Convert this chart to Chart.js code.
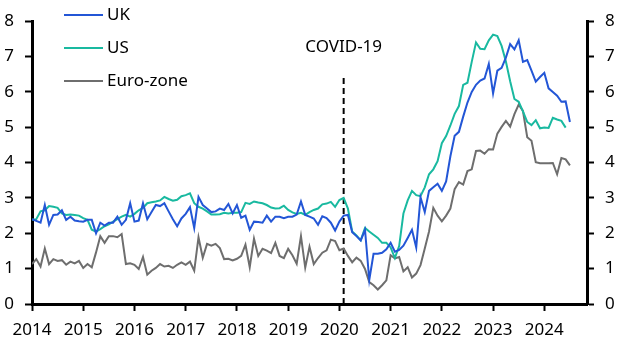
<!DOCTYPE html>
<html>
<head>
<meta charset="utf-8">
<script src="https://cdn.jsdelivr.net/npm/chart.js@4.4.1/dist/chart.umd.min.js"></script>
<style>
  body { margin: 0; background: #fff; }
  #wrap { width: 627px; height: 352px; }
</style>
</head>
<body>
<div id="wrap"><canvas id="chart"></canvas></div>
<script>
// monthly, Jan 2014 onwards
const ukValues = [
  2.4, 2.35, 2.3, 2.8, 2.24, 2.52, 2.53, 2.65, 2.38, 2.47, 2.36, 2.34,
  2.33, 2.38, 2.38, 2.0, 2.3, 2.22, 2.3, 2.3, 2.47, 2.24, 2.38, 2.85,
  2.33, 2.36, 2.85, 2.4, 2.6, 2.8, 2.77, 2.85, 2.62, 2.4, 2.2, 2.42,
  2.55, 2.74, 2.15, 3.03, 2.8, 2.7, 2.6, 2.62, 2.7, 2.66, 2.83, 2.56,
  2.8, 2.44, 2.5, 2.1, 2.33, 2.32, 2.3, 2.5, 2.33, 2.47, 2.47, 2.43,
  2.47, 2.47, 2.53, 2.9, 2.52, 2.47, 2.42, 2.24, 2.48, 2.43, 2.3, 2.08,
  2.33, 2.5, 2.52, 2.03, 1.92, 1.8, 2.1, 0.68, 1.42, 1.42, 1.45, 1.55,
  1.73, 1.48, 1.53, 1.65, 1.87, 2.1, 1.6, 3.02, 2.6, 3.2, 3.3, 3.4,
  3.2, 3.47, 4.18, 4.76, 4.87, 5.3, 5.7, 6.0, 6.2, 6.32, 6.38, 6.79,
  5.96, 6.6, 6.68, 6.97, 7.35, 7.2, 7.46, 6.85, 6.9, 6.6, 6.29, 6.42,
  6.54, 6.1, 6.0, 5.89, 5.72, 5.73, 5.15
];
const usValues = [
  2.38, 2.4, 2.62, 2.65, 2.77, 2.75, 2.72, 2.56, 2.52, 2.53, 2.52, 2.5,
  2.43, 2.38, 2.1, 2.05, 2.12, 2.2, 2.25, 2.33, 2.4, 2.47, 2.52, 2.47,
  2.55, 2.65, 2.72, 2.85, 2.88, 2.9, 2.93, 3.03, 2.97, 2.92, 2.95, 3.05,
  3.08, 3.13, 2.85, 2.75, 2.7, 2.62, 2.53, 2.53, 2.54, 2.58, 2.56, 2.58,
  2.58, 2.6, 2.86, 2.83, 2.9, 2.87, 2.85, 2.8, 2.73, 2.7, 2.71, 2.78,
  2.66, 2.59, 2.55, 2.58, 2.52, 2.6, 2.66, 2.7, 2.82, 2.84, 2.89, 2.75,
  2.94, 3.0, 2.7, 2.05, 1.94, 1.8, 2.15, 2.05, 1.96, 1.87, 1.73, 1.73,
  1.6, 1.3, 1.64, 2.56, 2.93, 3.2, 3.08, 3.05, 3.3, 3.67, 3.81, 4.04,
  4.55, 4.75, 5.05, 5.38, 5.6, 6.2, 6.26, 6.85, 7.4, 7.22, 7.21, 7.46,
  7.62, 7.58, 7.3, 6.86, 6.3, 5.8, 5.72, 5.45, 5.15, 5.06, 5.2, 4.97,
  4.99, 4.98, 5.27, 5.22, 5.18, 4.99
];
const euroValues = [
  1.13, 1.27, 1.06, 1.57, 1.13, 1.27, 1.22, 1.24, 1.11, 1.2, 1.15, 1.22,
  1.02, 1.13, 1.04, 1.46, 1.92, 1.73, 1.92, 1.92, 1.89, 1.98, 1.13, 1.15,
  1.11, 0.99, 1.33, 0.83, 0.94, 1.02, 1.13, 1.06, 1.08, 1.02, 1.11, 1.18,
  1.11, 1.2, 0.94, 1.89, 1.31, 1.7, 1.65, 1.7, 1.58, 1.27, 1.28, 1.23,
  1.28, 1.36, 1.68, 1.04, 1.85, 1.36, 1.56, 1.51, 1.44, 1.73, 1.36, 1.3,
  1.56, 1.38, 1.14, 1.92, 1.03, 1.62, 1.13, 1.3, 1.45, 1.52, 1.82, 1.78,
  1.52, 1.57, 1.36, 1.18, 1.31, 1.22, 0.99, 0.62, 0.53, 0.41, 0.53, 0.67,
  1.38, 1.29, 1.33, 0.92, 1.04, 0.75, 0.86, 1.1, 1.57, 2.05, 2.72, 2.5,
  2.34, 2.5, 2.7, 3.25, 3.45, 3.38, 3.76, 3.81, 4.33, 4.34, 4.25, 4.38,
  4.37, 4.82, 5.01, 5.18, 5.02, 5.37, 5.64, 5.46, 4.72, 4.62, 4.01, 3.98,
  3.98, 3.98, 3.99, 3.67, 4.13, 4.09, 3.92
];
const yearTicks = [2014, 2015, 2016, 2017, 2018, 2019, 2020, 2021, 2022, 2023, 2024];
const startYear = 2014;
const lastMonth = 130;       // right edge of the x axis, months since Jan 2014
const covidMonth = 73;       // Feb 2020
const covidTop = 6.5;

const FONT = { family: 'Noto Sans', size: 17 };

function toPoints(values) {
  return values.map((v, i) => ({ x: i, y: v }));
}

const series = [
  { label: 'UK', values: ukValues, color: '#2356d6' },
  { label: 'US', values: usValues, color: '#19b9a0' },
  { label: 'Euro-zone', values: euroValues, color: '#6e6e6e' }
];

const datasets = series.map(s => ({
  label: s.label,
  data: toPoints(s.values),
  borderColor: s.color,
  backgroundColor: s.color,
  borderWidth: 2,
  pointRadius: 0,
  tension: 0
}));
datasets.push({
  label: 'COVID-19',
  data: [{ x: covidMonth, y: 0 }, { x: covidMonth, y: covidTop }],
  borderColor: '#000',
  borderWidth: 2,
  borderDash: [6, 4],
  pointRadius: 0,
  isMarker: true
});

// legend stacked top-left + COVID label
const extras = {
  id: 'extras',
  afterDraw(chart) {
    const ctx = chart.ctx;
    ctx.save();
    ctx.font = `${FONT.size}px ${FONT.family}`;
    ctx.textBaseline = 'middle';
    ctx.fillStyle = '#000';
    series.forEach((s, i) => {
      const y = 15 + i * 33;
      ctx.strokeStyle = s.color;
      ctx.lineWidth = 2;
      ctx.beginPath();
      ctx.moveTo(64, y);
      ctx.lineTo(103, y);
      ctx.stroke();
      ctx.fillText(s.label, 107, y);
    });
    const x = chart.scales.x.getPixelForValue(covidMonth);
    ctx.textAlign = 'center';
    ctx.fillText('COVID-19', x, 47);
    ctx.restore();
  }
};

const yAxis = (pos, w) => ({
  type: 'linear',
  position: pos,
  min: 0,
  max: 8,
  ticks: { stepSize: 1, font: FONT, color: '#000', padding: 11 },
  grid: { drawOnChartArea: false, drawTicks: true, tickLength: 7, tickColor: '#000', tickWidth: 2 },
  border: { color: '#000', width: 3 },
  afterFit(s) { s.width = w; }
});

new Chart(document.getElementById('chart'), {
  type: 'line',
  data: { datasets: datasets },
  options: {
    responsive: true,
    maintainAspectRatio: false,
    animation: false,
    layout: { padding: { top: 16, left: 0, right: 0, bottom: 0 } },
    plugins: { legend: { display: false }, tooltip: { enabled: false } },
    scales: {
      x: {
        type: 'linear',
        min: 0,
        max: lastMonth,
        afterBuildTicks(axis) {
          axis.ticks = yearTicks.map(y => ({ value: (y - startYear) * 12 }));
        },
        ticks: {
          font: FONT,
          color: '#000',
          padding: 9,
          maxRotation: 0,
          autoSkip: false,
          callback: v => String(startYear + v / 12)
        },
        grid: { drawOnChartArea: false, drawTicks: true, tickLength: 7, tickColor: '#000', tickWidth: 2 },
        border: { color: '#000', width: 3 },
        afterFit(s) { s.height = 48; }
      },
      y: yAxis('left', 32),
      y2: yAxis('right', 40)
    }
  },
  plugins: [extras]
});
</script>
</body>
</html>
